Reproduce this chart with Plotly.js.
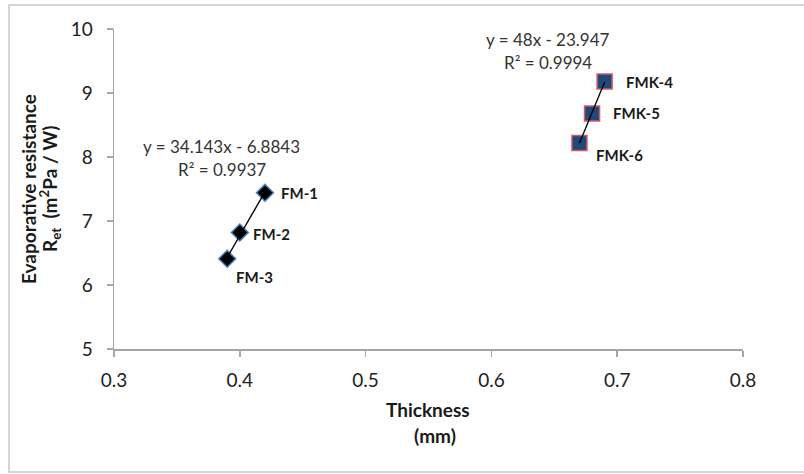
<!DOCTYPE html>
<html>
<head>
<meta charset="utf-8">
<script src="https://cdn.plot.ly/plotly-3.0.1.min.js"></script>
<style>html,body{margin:0;padding:0;background:#fff;}#chart{width:804px;height:474px;}</style>
</head>
<body>
<div id="chart"></div>
<script>
// FM series (diamonds)
var fmLabels = ["FM-1", "FM-2", "FM-3"];
var fmX = [0.42, 0.40, 0.39];
var fmY = [7.44, 6.82, 6.41];
// FMK series (squares)
var fmkLabels = ["FMK-4", "FMK-5", "FMK-6"];
var fmkX = [0.69, 0.68, 0.67];
var fmkY = [9.18, 8.68, 8.22];
// Trendline equations as printed on the chart
var fmSlope = 34.143, fmIntercept = -6.8843, fmEq = "y = 34.143x - 6.8843", fmR2 = "R² = 0.9937";
var fmkSlope = 48, fmkIntercept = -23.947, fmkEq = "y = 48x - 23.947", fmkR2 = "R² = 0.9994";
var xTicks = [0.3, 0.4, 0.5, 0.6, 0.7, 0.8];
var yTicks = [5, 6, 7, 8, 9, 10];

function trend(xs, m, b) {
  var lo = Math.min.apply(null, xs), hi = Math.max.apply(null, xs);
  return {x: [lo, hi], y: [m * lo + b, m * hi + b]};
}
var fmT = trend(fmX, fmSlope, fmIntercept);
var fmkT = trend(fmkX, fmkSlope, fmkIntercept);

var font = "Lato, 'Open Sans', sans-serif";

var traces = [
  {x: fmX, y: fmY, mode: "markers", type: "scatter",
   marker: {symbol: "diamond", size: 13, color: "#000000", line: {color: "#4a7ebb", width: 1.5}}},
  {x: fmkX, y: fmkY, mode: "markers", type: "scatter",
   marker: {symbol: "square", size: 15, color: "#1f497d", line: {color: "#d9595a", width: 1.5}}},
  {x: fmT.x, y: fmT.y, mode: "lines", type: "scatter", line: {color: "#000000", width: 1.3}},
  {x: fmkT.x, y: fmkT.y, mode: "lines", type: "scatter", line: {color: "#000000", width: 1.3}}
];

var annotations = [];
var allLabels = fmLabels.concat(fmkLabels), allX = fmX.concat(fmkX), allY = fmY.concat(fmkY);
var offs = [{ax: 35, ay: 0}, {ax: 32, ay: 1}, {ax: 27, ay: 18}, {ax: 45, ay: 1}, {ax: 44, ay: 0}, {ax: 40, ay: 12}];
for (var i = 0; i < allLabels.length; i++) {
  annotations.push({x: allX[i], y: allY[i], xref: "x", yref: "y", text: "<b>" + allLabels[i] + "</b>",
    showarrow: true, arrowcolor: "rgba(0,0,0,0)", ax: offs[i].ax, ay: offs[i].ay,
    font: {family: font, size: 15, color: "#1a1a1a"}});
}
// equation annotations
var eqFont = {family: font, size: 17, color: "#333"};
annotations.push({x: 0.3857, y: 8.17, xref: "x", yref: "y", text: fmEq, showarrow: false, font: eqFont});
annotations.push({x: 0.3857, y: 7.80, xref: "x", yref: "y", text: fmR2, showarrow: false, font: eqFont});
annotations.push({x: 0.645, y: 9.84, xref: "x", yref: "y", text: fmkEq, showarrow: false, font: eqFont});
annotations.push({x: 0.645, y: 9.47, xref: "x", yref: "y", text: fmkR2, showarrow: false, font: eqFont});
// axis titles
var titleFont = {family: font, size: 19, color: "#1a1a1a"};
annotations.push({xref: "paper", yref: "paper", x: 0.499, y: -0.19, text: "<b>Thickness</b>", showarrow: false, xanchor: "center", yanchor: "middle", font: titleFont});
annotations.push({xref: "paper", yref: "paper", x: 0.51, y: -0.27, text: "<b>(mm)</b>", showarrow: false, xanchor: "center", yanchor: "middle", font: titleFont});
annotations.push({xref: "paper", yref: "paper", x: -0.1367, y: 0.5, text: "<b>Evaporative resistance</b>", textangle: -90, showarrow: false, xanchor: "center", yanchor: "middle", font: titleFont});
annotations.push({xref: "paper", yref: "paper", x: -0.1017, y: 0.5, text: "<b>R<sub>et</sub>  (m<sup>2</sup>Pa / W)</b>", textangle: -90, showarrow: false, xanchor: "center", yanchor: "middle", font: titleFont});

var layout = {
  width: 804, height: 474,
  margin: {l: 114, r: 61, t: 29, b: 125},
  paper_bgcolor: "#ffffff", plot_bgcolor: "#ffffff",
  showlegend: false,
  xaxis: {range: [0.3, 0.8], tickvals: xTicks, ticktext: xTicks.map(String),
    showgrid: false, zeroline: false, showline: true, linecolor: "#a6a6a6", linewidth: 1.5,
    ticks: "outside", ticklen: 6, tickcolor: "#a6a6a6", tickwidth: 1.5, ticklabelstandoff: 8,
    tickfont: {family: font, size: 19, color: "#222"}},
  yaxis: {range: [5, 10], tickvals: yTicks, ticktext: yTicks.map(String),
    showgrid: false, zeroline: false, showline: true, linecolor: "#a6a6a6", linewidth: 1.5,
    ticks: "outside", ticklen: 6, tickcolor: "#a6a6a6", tickwidth: 1.5, ticklabelstandoff: 10,
    tickfont: {family: font, size: 19, color: "#222"}},
  annotations: annotations,
  shapes: [{type: "rect", xref: "paper", yref: "paper", x0: -0.167, x1: 1.1, y0: -0.384, y1: 1.075,
    line: {color: "#c8c8c8", width: 1.5}, fillcolor: "rgba(0,0,0,0)"}]
};

Plotly.newPlot("chart", traces, layout, {displayModeBar: false, staticPlot: true});
</script>
</body>
</html>
